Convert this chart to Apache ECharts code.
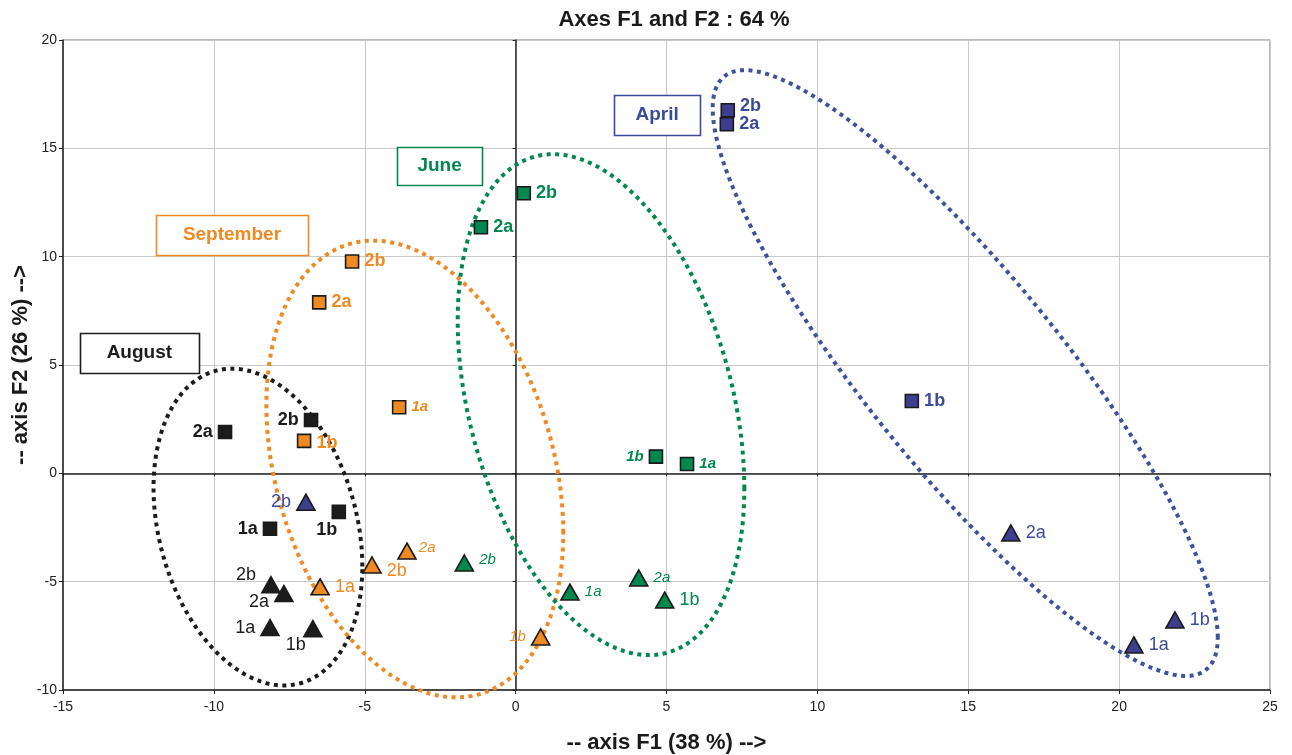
<!DOCTYPE html>
<html><head><meta charset="utf-8">
<script src="https://cdn.jsdelivr.net/npm/echarts@6/dist/echarts.min.js"></script>
<style>html,body{margin:0;padding:0;background:#fff}#c{width:1292px;height:755px}</style>
</head><body><div id="c"></div>
<script>
// ---------- data ----------
const xMin = -15, xMax = 25, yMin = -10, yMax = 20, step = 5;

const augustSquareNames = ['2a', '2b', '1a', '1b'];
const augustSquares = [[-9.63, 1.91], [-6.78, 2.46], [-8.14, -2.56], [-5.86, -1.78]];
const augustTriangleNames = ['2b', '2a', '1a', '1b'];
const augustTriangles = [[-8.11, -5.14], [-7.68, -5.55], [-8.14, -7.12], [-6.72, -7.17]];

const septemberSquareNames = ['2b', '2a', '1a', '1b'];
const septemberSquares = [[-5.42, 9.78], [-6.51, 7.89], [-3.86, 3.05], [-7.01, 1.50]];
const septemberTriangleNames = ['1a', '2b', '2a', '1b'];
const septemberTriangles = [[-6.48, -5.24], [-4.76, -4.23], [-3.60, -3.59], [0.83, -7.55]];

const juneSquareNames = ['2b', '2a', '1b', '1a'];
const juneSquares = [[0.27, 12.93], [-1.15, 11.36], [4.65, 0.77], [5.68, 0.43]];
const juneTriangleNames = ['2b', '1a', '2a', '1b'];
const juneTriangles = [[-1.70, -4.14], [1.80, -5.48], [4.08, -4.83], [4.94, -5.85]];

const aprilSquareNames = ['2b', '2a', '1b'];
const aprilSquares = [[7.03, 16.76], [7.00, 16.11], [13.13, 3.34]];
const aprilTriangleNames = ['2b', '2a', '1a', '1b'];
const aprilTriangles = [[-6.95, -1.33], [16.41, -2.75], [20.49, -7.92], [21.85, -6.77]];

// group boxes: name, centre (data units)
const boxNames = ['April', 'June', 'September', 'August'];
const boxCentres = [[4.69, 16.53], [-2.52, 14.18], [-9.40, 11.00], [-12.47, 5.55]];

// ellipses: centre x, centre y, half width, half height, x-shift of top point (data units)
const ellipseNames = ['August', 'September', 'June', 'April'];
const ellipseParams = [
  [-8.54, -2.48, 3.46, 7.31, -0.86],
  [-3.34, 0.20, 4.92, 10.54, -1.375],
  [2.83, 3.17, 4.75, 11.56, -1.59],
  [14.90, 4.63, 8.37, 13.98, -7.31]
];

// ---------- styles ----------
const FONT = 'Liberation Sans, Arial, sans-serif';
const colors = { August: '#1c1c1c', September: '#ef8a22', June: '#00884e', April: '#3c4a9a' };
const fills  = { August: '#1c1c1c', September: '#ef8a22', June: '#00884e', April: '#3d3f8e' };
const ellipseColors = { August: '#1c1c1c', September: '#ef8a22', June: '#00884e', April: '#3d5299' };
const boxSizes = { April: [86, 40], June: [85, 38], September: [152, 40], August: [119, 40] };

// label placement per point (same order as the names)
const place = {
  augSq: [{p: 'left'}, {p: 'left'}, {p: 'left'}, {p: 'bottom', o: [-12, -3]}],
  augTr: [{p: 'left', o: [0, -10]}, {p: 'left', o: [0, 8]}, {p: 'left'}, {p: 'bottom', o: [-17, -6]}],
  sepSq: [{p: 'right'}, {p: 'right'}, {p: 'right', it: true}, {p: 'right', o: [0, 2]}],
  sepTr: [{p: 'right'}, {p: 'right', o: [0, 6]}, {p: 'right', it: true, o: [-3, -3]}, {p: 'left', it: true}],
  junSq: [{p: 'right'}, {p: 'right'}, {p: 'left', it: true}, {p: 'right', it: true}],
  junTr: [{p: 'right', it: true, o: [0, -3]}, {p: 'right', it: true}, {p: 'right', it: true}, {p: 'right'}],
  aprSq: [{p: 'right', o: [0, -4]}, {p: 'right'}, {p: 'right'}],
  aprTr: [{p: 'left'}, {p: 'right'}, {p: 'right'}, {p: 'right'}]
};

function pointSeries(group, shape, pts, names, placements) {
  const isSq = shape === 'square';
  return {
    type: 'scatter',
    name: group + ' ' + shape,
    symbol: isSq ? 'rect' : 'triangle',
    symbolSize: isSq ? 13 : [18, 16],
    z: 5,
    itemStyle: { color: fills[group], borderColor: '#1a1a1a', borderWidth: 1.6, opacity: 1 },
    data: pts.map((v, i) => {
      const pl = placements[i];
      return {
        value: v,
        name: names[i],
        label: {
          show: true,
          formatter: names[i],
          position: pl.p,
          distance: 5,
          offset: pl.o || [0, 0],
          color: colors[group],
          fontFamily: FONT,
          fontSize: pl.it ? 15 : 18,
          fontWeight: isSq ? 'bold' : 'normal',
          fontStyle: pl.it ? 'italic' : 'normal'
        }
      };
    })
  };
}

const series = [];
// ellipses
series.push({
  type: 'custom',
  z: 2,
  silent: true,
  data: ellipseParams.map((p, i) => ({ value: p, name: ellipseNames[i] })),
  renderItem: function (params, api) {
    const cx = api.value(0), cy = api.value(1), ex = api.value(2), ey = api.value(3), k = api.value(4);
    const l21 = k * ey / ex;
    const l22 = Math.sqrt(ey * ey - l21 * l21);
    const pts = [];
    const N = 240;
    for (let i = 0; i <= N; i++) {
      const t = i / N * 2 * Math.PI;
      pts.push(api.coord([cx + ex * Math.cos(t), cy + l21 * Math.cos(t) + l22 * Math.sin(t)]));
    }
    const nm = ellipseNames[params.dataIndex];
    return {
      type: 'polyline',
      shape: { points: pts },
      style: { fill: null, stroke: ellipseColors[nm], lineWidth: 4, lineDash: [4, 4.5] }
    };
  }
});

series.push(pointSeries('August', 'square', augustSquares, augustSquareNames, place.augSq));
series.push(pointSeries('August', 'triangle', augustTriangles, augustTriangleNames, place.augTr));
series.push(pointSeries('September', 'square', septemberSquares, septemberSquareNames, place.sepSq));
series.push(pointSeries('September', 'triangle', septemberTriangles, septemberTriangleNames, place.sepTr));
series.push(pointSeries('June', 'square', juneSquares, juneSquareNames, place.junSq));
series.push(pointSeries('June', 'triangle', juneTriangles, juneTriangleNames, place.junTr));
series.push(pointSeries('April', 'square', aprilSquares, aprilSquareNames, place.aprSq));
series.push(pointSeries('April', 'triangle', aprilTriangles, aprilTriangleNames, place.aprTr));

// group boxes
series.push({
  type: 'custom',
  z: 4,
  silent: true,
  data: boxCentres.map((c, i) => ({ value: c, name: boxNames[i] })),
  renderItem: function (params, api) {
    const nm = boxNames[params.dataIndex];
    const p = api.coord([api.value(0), api.value(1)]);
    const s = boxSizes[nm];
    const x0 = Math.round(p[0] - s[0] / 2) + 0.5, y0 = Math.round(p[1] - s[1] / 2) + 0.5;
    return {
      type: 'group',
      children: [{
        type: 'rect',
        shape: { x: x0, y: y0, width: s[0], height: s[1] },
        style: { fill: '#ffffff', stroke: colors[nm], lineWidth: 1.6 }
      }, {
        type: 'text',
        x: p[0], y: p[1],
        style: { text: nm, fill: colors[nm], font: 'bold 19px ' + FONT, align: 'center', verticalAlign: 'middle' }
      }]
    };
  }
});

const axisFont = { fontFamily: FONT, fontSize: 14, color: '#222' };
const nameFont = { fontFamily: FONT, fontSize: 22, fontWeight: 'bold', color: '#1a1a1a' };

const option = {
  animation: false,
  backgroundColor: '#ffffff',
  title: {
    text: 'Axes F1 and F2 : 64 %',
    left: 669, top: 4, textAlign: 'center',
    textStyle: { fontFamily: FONT, fontSize: 22, fontWeight: 'bold', color: '#1a1a1a' }
  },
  grid: { left: 63, right: 22, top: 40, bottom: 65, show: true, borderColor: '#777', borderWidth: 1,
          containLabel: false, outerBoundsMode: 'none' },
  xAxis: [{
    type: 'value', min: xMin, max: xMax, interval: step,
    name: '-- axis F1 (38 %) -->', nameLocation: 'middle', nameGap: 42, nameMoveOverlap: false,
    nameTextStyle: nameFont,
    axisLine: { onZero: false, lineStyle: { color: '#222', width: 1.5 } },
    axisTick: { show: true, length: 4, lineStyle: { color: '#222' } },
    axisLabel: Object.assign({ margin: 10 }, axisFont),
    splitLine: { show: true, lineStyle: { color: '#c9c9c9', width: 1 } }
  }, {
    type: 'value', min: xMin, max: xMax, interval: step, position: 'bottom',
    axisLine: { onZero: true, onZeroAxisIndex: 0, lineStyle: { color: '#222', width: 1.5 } },
    axisTick: { show: true, length: 3, lineStyle: { color: '#222' } },
    axisLabel: { show: false }, splitLine: { show: false }
  }],
  yAxis: [{
    type: 'value', min: yMin, max: yMax, interval: step,
    name: '-- axis F2 (26 %) -->', nameLocation: 'middle', nameGap: 31, nameMoveOverlap: false,
    nameTextStyle: nameFont,
    axisLine: { onZero: false, lineStyle: { color: '#222', width: 1.5 } },
    axisTick: { show: true, length: 4, lineStyle: { color: '#222' } },
    axisLabel: Object.assign({ margin: 6 }, axisFont),
    splitLine: { show: true, lineStyle: { color: '#c9c9c9', width: 1 } }
  }, {
    type: 'value', min: yMin, max: yMax, interval: step, position: 'left',
    axisLine: { onZero: true, onZeroAxisIndex: 0, lineStyle: { color: '#222', width: 1.5 } },
    axisTick: { show: true, length: 3, lineStyle: { color: '#222' } },
    axisLabel: { show: false }, splitLine: { show: false }
  }],
  series: series
};

const chart = echarts.init(document.getElementById('c'), null, { renderer: 'canvas' });
chart.setOption(option);
</script>
</body></html>
